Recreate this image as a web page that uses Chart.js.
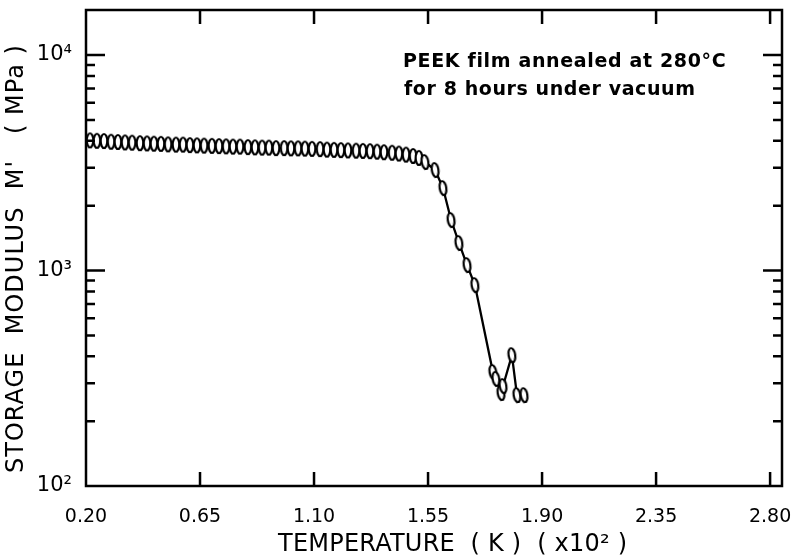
<!DOCTYPE html>
<html>
<head>
<meta charset="utf-8">
<script src="https://cdn.jsdelivr.net/npm/chart.js@4"></script>
<style>
  html, body { margin: 0; padding: 0; background: #fff; }
  #chart { display: block; }
</style>
</head>
<body>
<canvas id="chart" width="795" height="558"></canvas>
<script>
// temperature (K x 10^2) and storage modulus (MPa)
const TEMPERATURE = [
  0.216, 0.243, 0.271, 0.299, 0.326, 0.354, 0.382, 0.413, 0.441, 0.468,
  0.496, 0.524, 0.555, 0.583, 0.610, 0.638, 0.666, 0.697, 0.725, 0.753,
  0.780, 0.808, 0.839, 0.867, 0.895, 0.922, 0.950, 0.982, 1.009, 1.037,
  1.064, 1.092, 1.124, 1.151, 1.179, 1.206, 1.234, 1.266, 1.293, 1.321,
  1.349, 1.376, 1.408, 1.435, 1.463, 1.491, 1.514,
  1.538, 1.578, 1.609, 1.641, 1.672, 1.704, 1.735,
  1.806, 1.818, 1.838, 1.846, 1.881, 1.901, 1.929
];
const MODULUS = [
  4020, 4000, 3990, 3960, 3950, 3930, 3920, 3900, 3890, 3880,
  3870, 3850, 3840, 3840, 3820, 3810, 3800, 3790, 3780, 3770,
  3760, 3760, 3740, 3730, 3720, 3720, 3700, 3700, 3690, 3690,
  3680, 3670, 3660, 3640, 3630, 3620, 3610, 3600, 3590, 3580,
  3560, 3540, 3520, 3490, 3450, 3400, 3330,
  3188, 2927, 2414, 1715, 1342, 1060, 856,
  338, 314, 270, 291, 405, 264, 264
];

// x ticks are evenly spaced; labels as printed on the original
const X_TICK_POS = [0.20, 0.65, 1.10, 1.55, 2.00, 2.45, 2.90];
const X_TICK_LABELS = ["0.20", "0.65", "1.10", "1.55", "1.90", "2.35", "2.80"];
const Y_MAJOR = [100, 1000, 10000];
const Y_TICK_LABELS = ["10²", "10³", "10⁴"];
const Y_MINOR_STEPS = [2, 3, 4, 5, 6, 7, 8, 9];

const NOTE = ["PEEK film annealed at 280°C", "for 8 hours under vacuum"];
const X_TITLE = "TEMPERATURE  ( K )  ( x10² )";
const Y_TITLE = "STORAGE  MODULUS  M'   ( MPa )";

const FONT = "'DejaVu Sans', sans-serif";

function ellipseMarker() {
  const cv = document.createElement("canvas");
  cv.width = 10;
  cv.height = 18;
  const g = cv.getContext("2d");
  g.beginPath();
  g.ellipse(5, 9, 3.3, 7, 0, 0, Math.PI * 2);
  g.fillStyle = "#fff";
  g.fill();
  g.lineWidth = 2.2;
  g.strokeStyle = "#000";
  g.stroke();
  return cv;
}

// draw text stretched by letter spacing to cover a given width
function spacedText(ctx, text, x, y, width) {
  ctx.letterSpacing = "0px";
  const w = ctx.measureText(text).width;
  const sp = (width - w) / (text.length - 1);
  ctx.letterSpacing = sp.toFixed(2) + "px";
  ctx.textAlign = "left";
  ctx.fillText(text, x, y);
  ctx.letterSpacing = "0px";
}

function noPad(s) {
  s.paddingLeft = 0;
  s.paddingRight = 0;
  s.paddingTop = 0;
  s.paddingBottom = 0;
}

const framePlugin = {
  id: "frame",
  afterDraw(chart) {
    const { ctx, chartArea: a, scales } = chart;
    ctx.save();
    ctx.strokeStyle = "#000";
    ctx.lineWidth = 2.5;
    ctx.lineCap = "butt";
    ctx.strokeRect(a.left, a.top, a.right - a.left, a.bottom - a.top);

    ctx.beginPath();
    scales.x.ticks.forEach((t) => {
      const px = scales.x.getPixelForValue(t.value);
      if (px <= a.left + 2 || px >= a.right - 2) return;
      ctx.moveTo(px, a.bottom);
      ctx.lineTo(px, a.bottom - 14);
      ctx.moveTo(px, a.top);
      ctx.lineTo(px, a.top + 14);
    });
    scales.y.ticks.forEach((t) => {
      const py = scales.y.getPixelForValue(t.value);
      if (py <= a.top + 2 || py >= a.bottom - 2) return;
      const len = Y_MAJOR.includes(t.value) ? 19 : 9;
      ctx.moveTo(a.left, py);
      ctx.lineTo(a.left + len, py);
      ctx.moveTo(a.right, py);
      ctx.lineTo(a.right - len, py);
    });
    ctx.stroke();

    ctx.fillStyle = "#000";
    ctx.textBaseline = "middle";

    ctx.font = "bold 19px " + FONT;
    spacedText(ctx, NOTE[0], 403, 62, 322);
    spacedText(ctx, NOTE[1], 404, 90, 291);

    ctx.font = "24px " + FONT;
    spacedText(ctx, X_TITLE, 278, 545, 349);

    ctx.translate(17, 259);
    ctx.rotate(-Math.PI / 2);
    spacedText(ctx, Y_TITLE, -214, 0, 428);
    ctx.restore();
  },
};

const marker = ellipseMarker();

new Chart(document.getElementById("chart"), {
  type: "line",
  data: {
    datasets: [
      {
        data: TEMPERATURE.map((t, i) => ({ x: t, y: MODULUS[i] })),
        borderColor: "#000",
        borderWidth: 2.3,
        tension: 0,
        pointStyle: marker,
        pointRadius: 7,
        pointRotation: (c) => (c.raw && c.raw.x > 1.52 ? -9 : 0),
      },
    ],
  },
  options: {
    responsive: false,
    animation: false,
    layout: { padding: { top: 10, right: 13, left: 0, bottom: 0 } },
    plugins: { legend: { display: false }, tooltip: { enabled: false } },
    scales: {
      x: {
        type: "linear",
        min: 0.2,
        max: 2.947,
        grid: { display: false },
        border: { display: false },
        afterBuildTicks: (s) => {
          s.ticks = X_TICK_POS.map((v) => ({ value: v }));
        },
        afterFit: (s) => {
          s.height = 72;
          noPad(s);
        },
        ticks: {
          color: "#000",
          padding: 12,
          autoSkip: false,
          maxRotation: 0,
          font: { family: FONT, size: 19 },
          callback: (v, i) => X_TICK_LABELS[i],
        },
      },
      y: {
        type: "logarithmic",
        min: 100,
        max: 16180,
        grid: { display: false },
        border: { display: false },
        afterBuildTicks: (s) => {
          const ticks = [];
          Y_MAJOR.forEach((d, i) => {
            ticks.push({ value: d });
            if (i < Y_MAJOR.length - 1) Y_MINOR_STEPS.forEach((m) => ticks.push({ value: m * d }));
          });
          s.ticks = ticks;
        },
        afterFit: (s) => {
          s.width = 86;
          noPad(s);
        },
        ticks: {
          color: "#000",
          padding: 6,
          autoSkip: false,
          font: { family: FONT, size: 21 },
          callback: (v) => {
            const k = Y_MAJOR.indexOf(v);
            return k >= 0 ? Y_TICK_LABELS[k] : "";
          },
        },
      },
    },
  },
  plugins: [framePlugin],
});
</script>
</body>
</html>
